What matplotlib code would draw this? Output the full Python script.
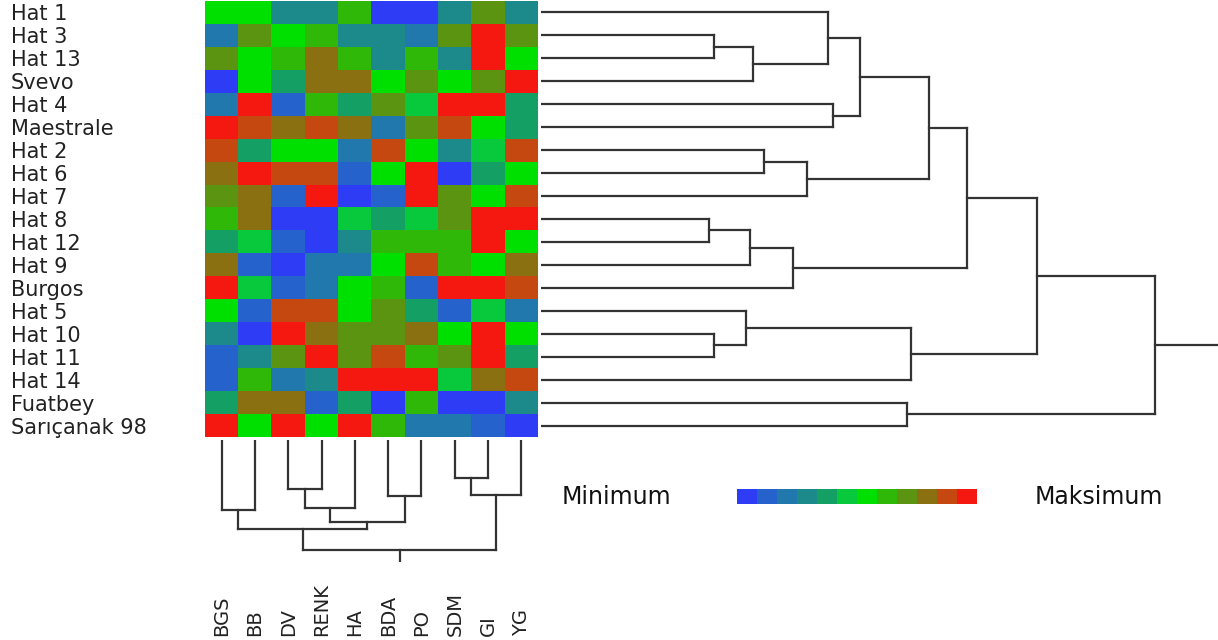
import numpy as np
import matplotlib
matplotlib.use("Agg")
import matplotlib.pyplot as plt
from matplotlib.colors import ListedColormap
from matplotlib.transforms import blended_transform_factory

# ---------------- data ----------------
rows = ["Hat 1", "Hat 3", "Hat 13", "Svevo", "Hat 4", "Maestrale", "Hat 2", "Hat 6",
        "Hat 7", "Hat 8", "Hat 12", "Hat 9", "Burgos", "Hat 5", "Hat 10", "Hat 11",
        "Hat 14", "Fuatbey", "Sarıçanak 98"]
cols = ["BGS", "BB", "DV", "RENK", "HA", "BDA", "PO", "SDM", "GI", "YG"]

# colour level (0 = minimum ... 11 = maximum)
values = np.array([
    [6, 6, 3, 3, 7, 0, 0, 3, 8, 3],
    [2, 8, 6, 7, 3, 3, 2, 8, 11, 8],
    [8, 6, 7, 9, 7, 3, 7, 3, 11, 6],
    [0, 6, 4, 9, 9, 6, 8, 6, 8, 11],
    [2, 11, 1, 7, 4, 8, 5, 11, 11, 4],
    [11, 10, 9, 10, 9, 2, 8, 10, 6, 4],
    [10, 4, 6, 6, 2, 10, 6, 3, 5, 10],
    [9, 11, 10, 10, 1, 6, 11, 0, 4, 6],
    [8, 9, 1, 11, 0, 1, 11, 8, 6, 10],
    [7, 9, 0, 0, 5, 4, 5, 8, 11, 11],
    [4, 5, 1, 0, 3, 7, 7, 7, 11, 6],
    [9, 1, 0, 2, 2, 6, 10, 7, 6, 9],
    [11, 5, 1, 2, 6, 7, 1, 11, 11, 10],
    [6, 1, 10, 10, 6, 8, 4, 1, 5, 2],
    [3, 0, 11, 9, 8, 8, 9, 6, 11, 6],
    [1, 3, 8, 11, 8, 10, 7, 8, 11, 4],
    [1, 7, 2, 3, 11, 11, 11, 5, 9, 10],
    [4, 9, 9, 1, 4, 0, 7, 0, 0, 3],
    [11, 6, 11, 6, 11, 7, 2, 2, 1, 0],
])

palette = ["#2E3CF5", "#2562CC", "#2178AC", "#1C8A8A", "#14A064", "#08C83C",
           "#00E000", "#30B808", "#5A9410", "#8A7010", "#C44810", "#F41810"]

# row dendrogram merges: (child a, child b, height); leaves 0..18, new nodes from 19
row_merges = [
    (1, 2, 2.81), (19, 3, 3.45), (0, 20, 4.67), (4, 5, 4.76), (21, 22, 5.19),
    (6, 7, 3.63), (24, 8, 4.33), (23, 25, 6.31), (9, 10, 2.73), (27, 11, 3.41),
    (28, 12, 4.10), (26, 29, 6.94), (14, 15, 2.81), (13, 31, 3.33), (32, 16, 6.03),
    (30, 33, 8.08), (17, 18, 5.95), (34, 35, 10.0),
]
# column dendrogram merges; leaves 0..9, new nodes from 10
col_merges = [
    (0, 1, 6.36), (2, 3, 4.45), (11, 4, 6.18), (5, 6, 5.09), (12, 13, 7.45),
    (10, 14, 8.09), (7, 8, 3.45), (16, 9, 5.0), (15, 17, 10.0),
]

legend_low = "Minimum"
legend_high = "Maksimum"

# ---------------- figure ----------------
W, H = 1218, 640
fig = plt.figure(figsize=(W / 100, H / 100), dpi=100)
fig.patch.set_facecolor("white")


def px_axes(x0, y0, x1, y1):
    return fig.add_axes([x0 / W, 1 - y1 / H, (x1 - x0) / W, (y1 - y0) / H])


cmap = ListedColormap(palette)
LINE = "#333333"
LW = 1.6

# heatmap
ax = px_axes(205, 1, 538, 437)
ax.imshow(values, cmap=cmap, vmin=-0.5, vmax=len(palette) - 0.5,
          aspect="auto", interpolation="nearest")
ax.set_xticks([])
ax.set_yticks(range(len(rows)))
ax.set_yticklabels(rows, fontsize=15, color="#222222", family="DejaVu Sans")
ax.tick_params(axis="y", length=0, pad=(205 - 11) * 0.72)
for lab in ax.get_yticklabels():
    lab.set_horizontalalignment("left")
for s in ax.spines.values():
    s.set_visible(False)


def dendro(merges, n):
    pos = {i: float(i) for i in range(n)}
    hgt = {i: 0.0 for i in range(n)}
    segs = []
    for k, (a, b, h) in enumerate(merges):
        node = n + k
        segs.append((pos[a], hgt[a], pos[a], h))
        segs.append((pos[b], hgt[b], pos[b], h))
        segs.append((pos[a], h, pos[b], h))
        pos[node] = (pos[a] + pos[b]) / 2
        hgt[node] = h
    root = n + len(merges) - 1
    return segs, pos[root], hgt[root]


# row dendrogram (right)
axr = px_axes(541, 1, 1218, 437)
segs, rpos, rh = dendro(row_merges, len(rows))
xmax = 11.02
for p0, h0, p1, h1 in segs:
    axr.plot([h0, h1], [p0, p1], color=LINE, lw=LW, solid_capstyle="projecting")
axr.plot([rh, xmax], [rpos, rpos], color=LINE, lw=LW)
axr.set_xlim(0, xmax)
axr.set_ylim(len(rows) - 0.5, -0.5)
axr.axis("off")

# column dendrogram (bottom)
axc = px_axes(205, 440, 538, 562)
segs, cpos, ch = dendro(col_merges, len(cols))
ymax = 11.1
for p0, h0, p1, h1 in segs:
    axc.plot([p0, p1], [h0, h1], color=LINE, lw=LW, solid_capstyle="projecting")
axc.plot([cpos, cpos], [ch, ymax], color=LINE, lw=LW)
axc.set_xlim(-0.5, len(cols) - 0.5)
axc.set_ylim(ymax, 0)
axc.axis("off")

tr = blended_transform_factory(axc.transData, fig.transFigure)
for i, c in enumerate(cols):
    axc.text(i, 1 - 636 / H, c, transform=tr, rotation=90, ha="center", va="bottom",
             fontsize=14, color="#222222", clip_on=False)

# legend strip
axl = px_axes(737, 489, 977, 504)
axl.imshow(np.arange(len(palette))[None, :], cmap=cmap, aspect="auto",
           interpolation="nearest")
axl.axis("off")
fig.text(562 / W, 1 - 497 / H, legend_low, ha="left", va="center", fontsize=17,
         color="#111111")
fig.text(1035 / W, 1 - 497 / H, legend_high, ha="left", va="center", fontsize=17,
         color="#111111")

fig.savefig("out.png", dpi=100, facecolor="white")
